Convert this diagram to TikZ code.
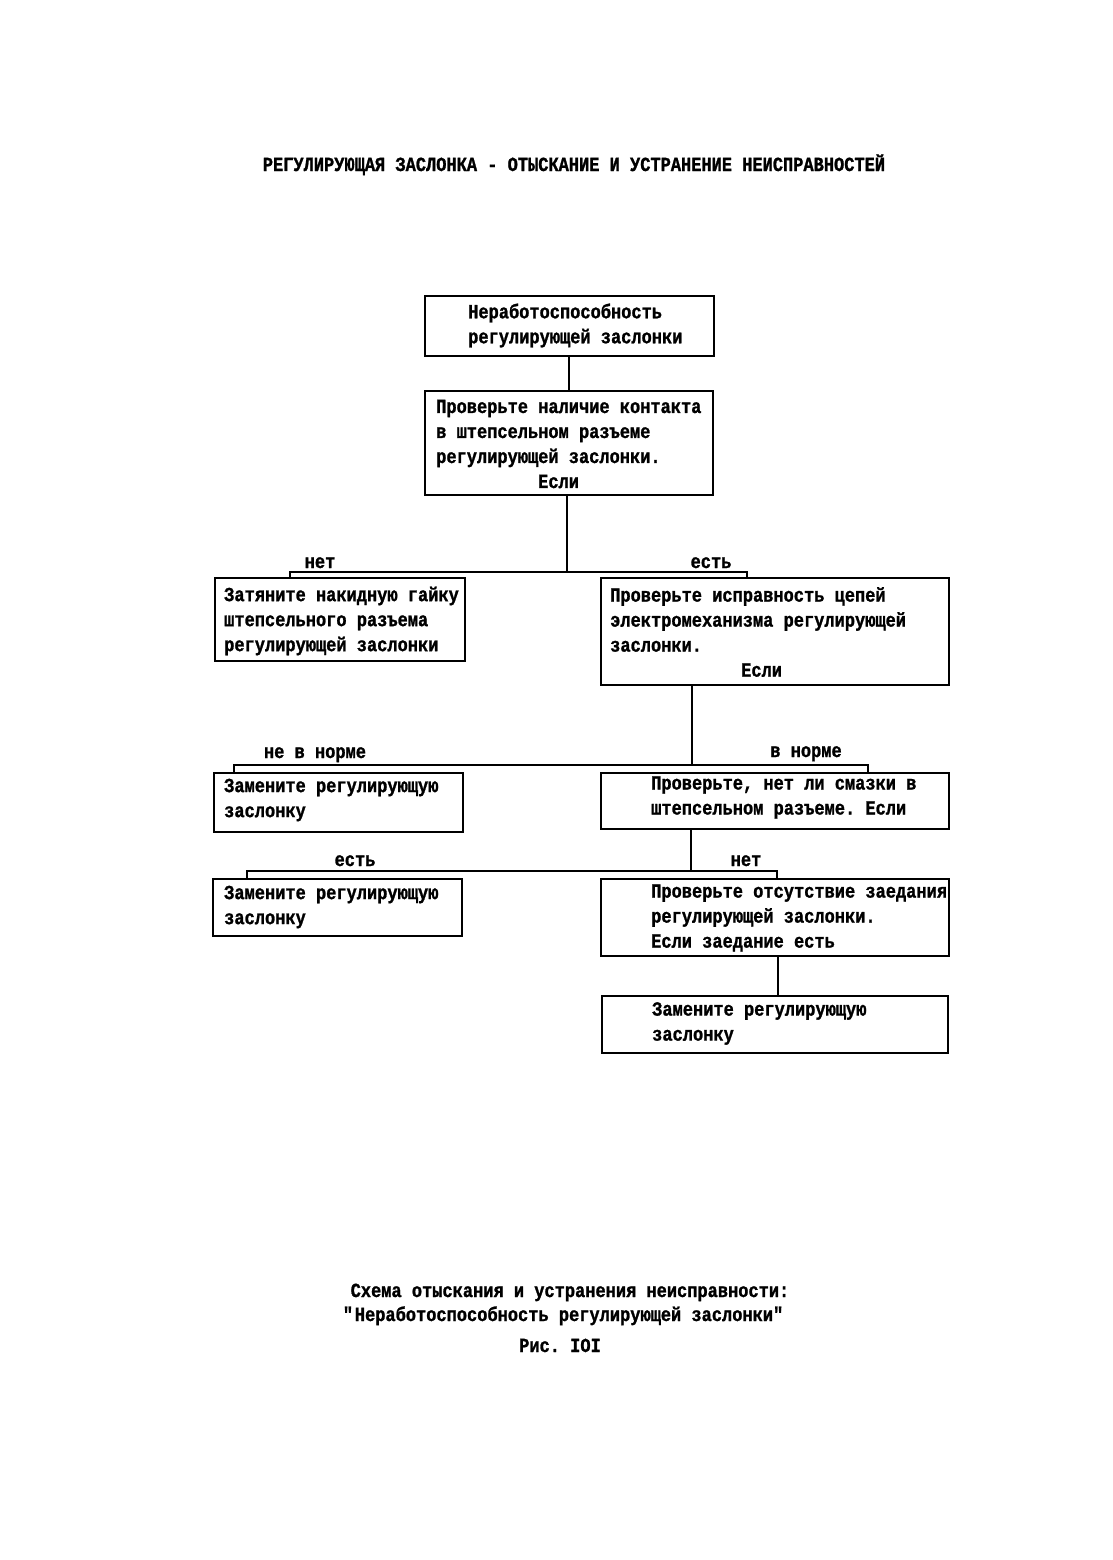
\documentclass[tikz,border=0pt]{standalone}
\usepackage{fontspec}
\setmainfont{Liberation Mono}[FakeStretch=0.85,BoldFeatures={FakeBold=1.2}]
\frenchspacing
\begin{document}
\begin{tikzpicture}[x=1pt,y=-1pt,
  box/.style={draw,line width=1.6pt,inner sep=0pt},
  txt/.style={anchor=west,inner sep=0pt,align=left,font=\bfseries\fontsize{20}{25}\selectfont},
  lbl/.style={anchor=base,inner sep=0pt,font=\bfseries\fontsize{20}{25}\selectfont},
  conn/.style={line width=1.4pt}]
\useasboundingbox (0,0) rectangle (1112,1560);
\fill[white] (0,0) rectangle (1112,1560);

% title
\node[lbl] (title) at (574,171) {РЕГУЛИРУЮЩАЯ ЗАСЛОНКА - ОТЫСКАНИЕ И УСТРАНЕНИЕ НЕИСПРАВНОСТЕЙ};

% boxes
\node[box,minimum width=289pt,minimum height=60pt,anchor=north west] (B1) at (424,295) {};
\node[box,minimum width=288pt,minimum height=104pt,anchor=north west] (B2) at (424,390) {};
\node[box,minimum width=250pt,minimum height=83pt,anchor=north west] (B3) at (214,577) {};
\node[box,minimum width=348pt,minimum height=107pt,anchor=north west] (B4) at (600,577) {};
\node[box,minimum width=249pt,minimum height=59pt,anchor=north west] (B5) at (213,772) {};
\node[box,minimum width=348pt,minimum height=56pt,anchor=north west] (B6) at (600,772) {};
\node[box,minimum width=249pt,minimum height=57pt,anchor=north west] (B7) at (212,878) {};
\node[box,minimum width=348pt,minimum height=77pt,anchor=north west] (B8) at (600,878) {};
\node[box,minimum width=346pt,minimum height=57pt,anchor=north west] (B9) at (601,995) {};

% texts
\node[txt] (T1) at (468,325.5) {Неработоспособность\\регулирующей заслонки};
\node[txt] (T2) at (436,444) {Проверьте наличие контакта\\в штепсельном разъеме\\регулирующей заслонки.\\\hspace*{102pt}Если};
\node[txt] (T3) at (224,621) {Затяните накидную гайку\\штепсельного разъема\\регулирующей заслонки};
\node[txt] (T4) at (610,632) {Проверьте исправность цепей\\электромеханизма регулирующей\\заслонки.\\\hspace*{131pt}Если};
\node[txt] (T5) at (224,800) {Замените регулирующую\\заслонку};
\node[txt] (T6) at (651,797.5) {Проверьте, нет ли смазки в\\штепсельном разъеме. Если};
\node[txt] (T7) at (224,907) {Замените регулирующую\\заслонку};
\node[txt] (T8) at (651,918) {Проверьте отсутствие заедания\\регулирующей заслонки.\\Если заедание есть};
\node[txt] (T9) at (652,1023.5) {Замените регулирующую\\заслонку};

% junction coordinates
\coordinate (J1) at (567,572);
\coordinate (L1) at (290,572);
\coordinate (R1) at (747,572);
\coordinate (J2) at (692,765);
\coordinate (L2) at (234,765);
\coordinate (R2) at (868,765);
\coordinate (J3) at (691,871);
\coordinate (L3) at (247,871);
\coordinate (R3) at (777,871);

% connectors
\draw[conn] (B1.south -| 569,0) -- (B2.north -| 569,0);
\draw[conn] (B2.south -| J1) -- (J1);
\draw[conn] (B3.north -| L1) -- (L1) -- (R1) -- (B4.north -| R1);
\draw[conn] (B4.south -| J2) -- (J2);
\draw[conn] (B5.north -| L2) -- (L2) -- (R2) -- (B6.north -| R2);
\draw[conn] (B6.south -| J3) -- (J3);
\draw[conn] (B7.north -| L3) -- (L3) -- (R3) -- (B8.north -| R3);
\draw[conn] (B8.south -| 778,0) -- (B9.north -| 778,0);

% branch labels
\node[lbl] (n1) at (320,568) {нет};
\node[lbl] (y1) at (711,568) {есть};
\node[lbl] (n2) at (315,758) {не в норме};
\node[lbl] (y2) at (806,757) {в норме};
\node[lbl] (y3) at (355,866) {есть};
\node[lbl] (n3) at (746,866) {нет};

% caption
\node[lbl] (C1) at (570,1297) {Схема отыскания и устранения неисправности:};
\node[lbl] (C2) at (564,1321) {\textquotedbl Неработоспособность регулирующей заслонки\textquotedbl};
\node[lbl] (C3) at (560,1352) {Рис. IOI};
\end{tikzpicture}
\end{document}
